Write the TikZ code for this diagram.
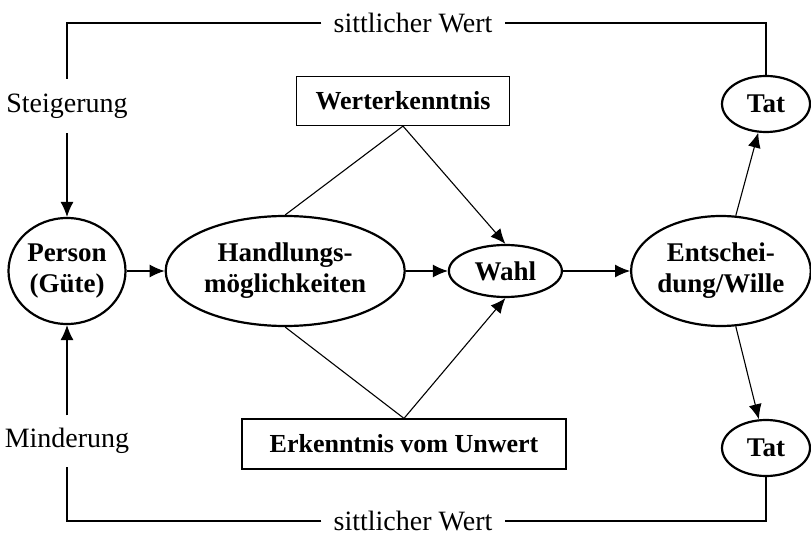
\documentclass[tikz,border=0pt]{standalone}
\usepackage{fontspec}
\setmainfont{Liberation Serif}
\usetikzlibrary{positioning}
\usetikzlibrary{shapes.geometric}
\usetikzlibrary{arrows.meta}

\begin{document}
\begin{tikzpicture}[x=1pt, y=-1pt, font=\fontsize{28}{32}\selectfont,
  oval/.style={draw, ellipse, line width=2.2pt, inner sep=0pt, align=center, font=\fontsize{27}{31}\selectfont\bfseries},
  kasten/.style={draw, rectangle, line width=1.2pt, inner sep=0pt, font=\fontsize{26}{31}\selectfont\bfseries},
  linie/.style={line width=1.1pt},
  pfeil/.style={linie, -{Latex[length=15pt,width=13pt]}}]
  \useasboundingbox (0,0) rectangle (811,537);

  \node[oval, minimum width=117pt, minimum height=106pt] (p) at (67,271) {Person\\(Güte)};
  \node[oval, right=38pt of p, minimum width=239pt, minimum height=110pt] (h) {Handlungs-\\möglichkeiten};
  \node[oval, right=42pt of h, minimum width=113pt, minimum height=52pt] (w) {Wahl};
  \node[oval, right=67pt of w, minimum width=159pt, minimum height=110pt] (e) {Entschei-\\dung/Wille};
  \node[oval, minimum width=88pt, minimum height=56pt] (to) at (766,104) {Tat};
  \node[oval, minimum width=88pt, minimum height=56pt] (tu) at (766,448) {Tat};

  \node[kasten, minimum width=213pt, minimum height=49pt] (we) at (403,101) {Werterkenntnis};
  \node[kasten, minimum width=324pt, minimum height=50pt] (uw) at (404,444) {Erkenntnis vom Unwert};

  \node[inner sep=0pt, minimum height=54pt] (st) at (67,106) {Steigerung};
  \node[inner sep=0pt, minimum height=51pt] (mi) at (67,441) {Minderung};
  \node[inner xsep=12pt, inner ysep=0pt] (wo) at (413,23) {sittlicher Wert};
  \node[inner xsep=12pt, inner ysep=0pt] (wu) at (413,521) {sittlicher Wert};

  \path[pfeil] (p) edge (h);
  \path[pfeil] (h) edge (w);
  \path[pfeil] (w) edge (e);
  \path[pfeil] (e.75) edge (to);
  \path[pfeil] (e.-75) edge (tu);

  \draw[linie] (we.south) -- (h.north);
  \path[pfeil] (we.south) edge (w.north);
  \draw[linie] (uw.north) -- (h.south);
  \path[pfeil] (uw.north) edge (w.south);

  % Rueckkopplung oben und unten
  \draw[linie] (to.north) |- (wo);
  \draw[linie] (wo) -| (st);
  \path[pfeil] (st) edge (p);
  \draw[linie] (tu.south) |- (wu);
  \draw[linie] (wu) -| (mi);
  \path[pfeil] (mi) edge (p);
\end{tikzpicture}
\end{document}
